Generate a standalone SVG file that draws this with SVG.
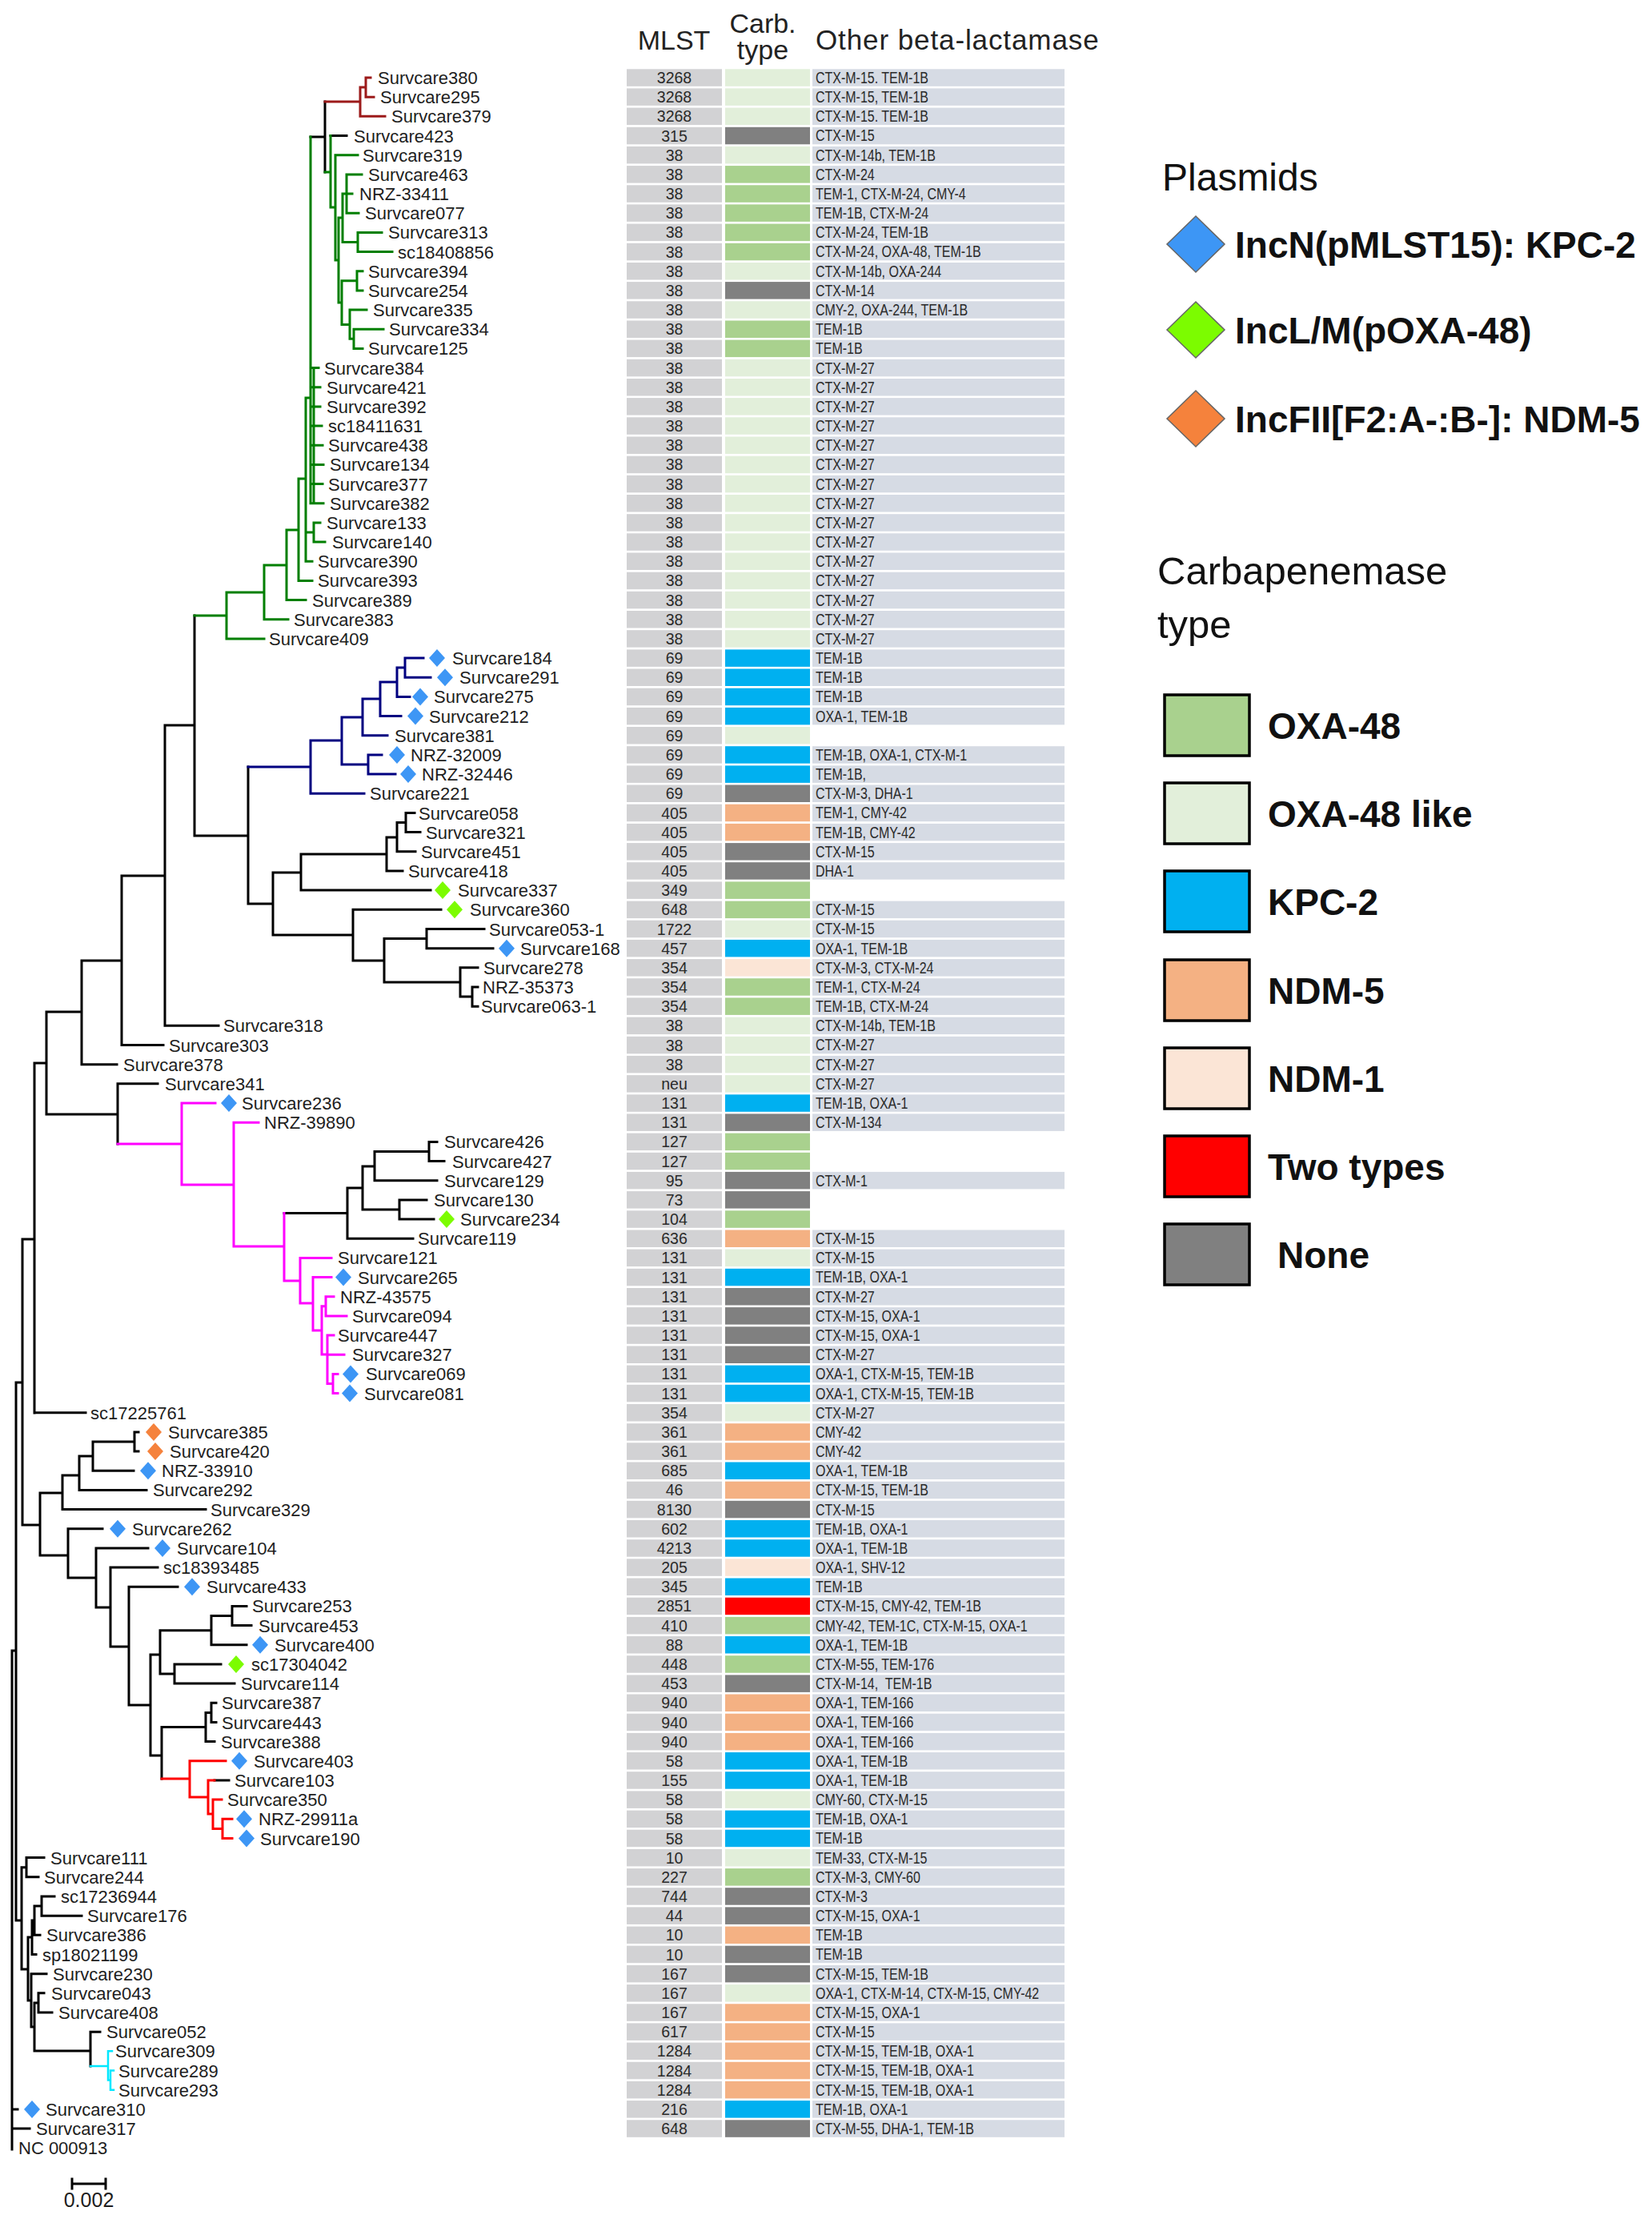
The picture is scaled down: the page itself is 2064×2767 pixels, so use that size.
<svg xmlns="http://www.w3.org/2000/svg" xmlns:xlink="http://www.w3.org/1999/xlink" width="2064" height="2767" viewBox="0 0 2064 2767">
<style>
text{font-family:"Liberation Sans",Arial,sans-serif}
.lab{font-size:22px;fill:#1e1e1e}
.mt{font-size:19.5px;fill:#2a2a2a;text-anchor:middle}
.ot{font-size:19.5px;fill:#2a2a2a}
.hd{font-size:34px;fill:#222}
.br{fill:none;stroke-width:3;stroke-linecap:square}
.bk{stroke:#000}.gr{stroke:#007f00}.dr{stroke:#9c1a1a}.nv{stroke:#000080}.mg{stroke:#ff00ff}.rd{stroke:#ff0000}.cy{stroke:#00e8ff;stroke-width:2.5}
.db{fill:#3d96f5}.dg{fill:#7cfc00}.do{fill:#f5823c}
.cG{fill:#a9d18e}.cL{fill:#e2efda}.cK{fill:#00b0f0}.c5{fill:#f4b183}.c1{fill:#fbe5d6}.cR{fill:#ff0000}.cX{fill:#808080}
.lg{font-size:46px;font-weight:bold;fill:#111}
.lt{font-size:48px;fill:#111}
.sw{stroke:#000;stroke-width:3.5}
.ld{stroke:#666;stroke-width:1.5}
</style>
<defs>
<path id="d" d="M0-11L10 0L0 11L-10 0Z"/>
<path id="D" d="M0-35L36 0L0 35L-36 0Z"/>
<rect id="rm" x="783" y="0" width="119" height="21.5" fill="#d2d2d4"/>
<rect id="rc" x="906" y="0" width="106" height="21.5"/>
<rect id="ro" x="1015" y="0" width="315" height="21.5" fill="#d6dbe4"/>
</defs>
<rect width="2064" height="2767" fill="#fff"/>

<g id="connectors" class="br">
<path class="bk" d="M15 2062V2685M15 2062H20M15 2634.9H22M15 2659H37M20 1727V2399M20 1727H28M20 2399H27M28 1548V1905M28 1548H43M28 1905H50M43 1328V1765M43 1328H58M43 1764.7H107M58 1264V1392M58 1264H102M58 1392H147M102 1200V1329.7M102 1200H152M102 1329.7H146M152 1094V1305.5M152 1094H206M152 1305.5H204M206 906V1281.3M206 906H243M206 1281.3H273M243 769V1044M243 1044H310M310 958V1129M310 1129H341M341 1090V1168M341 1090H376M341 1168H441M376 1067V1112.1M376 1067H483M376 1112.1H538M483 1046V1088M483 1046H496M483 1088H503M496 1027.5V1063.8M496 1027.5H507M496 1063.8H519M507 1015.5V1039.6M507 1015.5H518M507 1039.6H525M441 1136.3V1200M441 1136.3H551M441 1200H480M480 1172.6V1227M480 1172.6H533M480 1227H575M533 1160.5V1184.7M533 1160.5H605M533 1184.7H616M575 1208.8V1245M575 1208.8H597M575 1245H590M590 1233V1257.2M590 1233H597M590 1257.2H597M147 1353.8V1429M147 1353.8H197M355 1515.6H434M434 1484V1547.2M434 1484H453M434 1547.2H516M453 1457V1511M453 1457H468M453 1511H499M468 1438.4V1474.7M468 1438.4H536M468 1474.7H546M536 1426.4V1450.5M536 1426.4H546M536 1450.5H555M499 1498.9V1523M499 1498.9H533M499 1523H542M50 1865V1943M50 1865H78M50 1943H85M78 1843V1885.6M78 1843H99M78 1885.6H257M99 1819V1861.4M99 1819H116M99 1861.4H183M116 1801V1837.2M116 1801H168M116 1837.2H167M168 1788.9V1813.1M168 1788.9H173M168 1813.1H173M85 1909.8V1971M85 1909.8H128M85 1971H120M120 1933.9V2008M120 1933.9H185M120 2008H138M138 1958.1V2057M138 1958.1H197M138 2057H161M161 1982.3V2130M161 1982.3H222M161 2130H188M188 2067V2193M188 2067H200M188 2193H202M200 2036.7V2091M200 2036.7H264M200 2091H218M264 2018.5V2054.8M264 2018.5H290M264 2054.8H308M290 2006.4V2030.6M290 2006.4H308M290 2030.6H314M218 2078.9V2103.1M218 2078.9H276M218 2103.1H293M202 2157.5V2222M202 2157.5H257M257 2139.4V2175.6M257 2139.4H264M257 2175.6H268M264 2127.3V2151.5M264 2127.3H270M264 2151.5H270M268 2224H286M27 2332.7V2460M27 2332.7H33M27 2460H35M33 2320.6V2344.8M33 2320.6H55M33 2344.8H48M35 2420V2499M35 2420H40M35 2499H39M40 2399V2441.5M40 2399H43M40 2441.5H45M43 2381V2417.3M43 2381H52M43 2417.3H50M52 2369V2393.2M52 2369H68M52 2393.2H102M39 2465.7V2532M39 2465.7H58M39 2532H43M43 2502V2562M43 2502H48M43 2562H113M48 2489.8V2514M48 2489.8H55M48 2514H65M113 2538.2V2581M113 2538.2H125M406 127V215M388 171H406M413 169.5H433"/>
<path class="gr" d="M243 769H283M283 740V797.9M283 740H330M283 797.9H330M330 706V773.8M330 706H358M330 773.8H360M358 662V749.6M358 662H373M358 749.6H382M373 598V725.4M373 598H382M373 725.4H390M382 497V701.3M382 497H388M382 665H392M382 701.3H390M392 652.9V677.1M392 652.9H400M392 677.1H406M388 171V628.7M392 459.6V628.7M388 459.6H398M388 483.7H400M388 507.9H400M388 532.1H402M388 556.2H403M388 580.4H404M388 604.6H403M388 628.7H404M406 215H413M413 169.5V259M413 259H419M419 193.7V325M419 193.7H447M419 325H423M423 272V378M423 272H428M423 378H427M428 242V302.4M428 242H433M428 302.4H447M433 217.9V266.2M433 217.9H452M433 242H440M433 266.2H448M447 290.4V314.5M447 290.4H477M447 314.5H490M427 350.8V405.5M427 350.8H446M427 405.5H437M446 338.7V362.9M446 338.7H453M446 362.9H453M437 387V423.3M437 387H458M437 423.3H442M442 411.2V435.4M442 411.2H479M442 435.4H453"/>
<path class="dr" d="M406 127H450M450 109V145.3M450 109H457M450 145.3H481M457 97V121.2M457 97H463M457 121.2H467"/>
<path class="nv" d="M310 958H388M388 925V991.3M388 925H427M388 991.3H455M427 896V955M427 896H453M427 955H460M453 873V918.8M453 873H475M453 918.8H484M475 852V894.6M475 852H496M475 894.6H501M496 834V870.4M496 834H506M496 870.4H512M506 822.1V846.3M506 822.1H529M506 846.3H538M460 943V967.1M460 943H477M460 967.1H494"/>
<path class="mg" d="M147 1429H227M227 1378V1480M227 1378H269M227 1480H292M292 1402.2V1557M292 1402.2H323M292 1557H355M355 1515.6V1600M355 1600H375M375 1571.4V1628M375 1571.4H414M375 1628H391M391 1595.5V1662M391 1595.5H414M391 1662H402M402 1631.8V1692M402 1631.8H407M402 1692H409M407 1619.7V1643.9M407 1619.7H417M407 1643.9H433M409 1668V1728.5M409 1668H417M409 1692.2H430M409 1728.5H416M416 1716.4V1740.6M416 1716.4H422M416 1740.6H422"/>
<path class="rd" d="M202 2222H237M237 2199.8V2245M237 2199.8H282M237 2245H260M260 2224V2266M260 2224H268M260 2266H266M266 2248.1V2284.4M266 2248.1H277M266 2284.4H278M278 2272.3V2296.5M278 2272.3H290M278 2296.5H290"/>
<path class="cy" d="M113 2581H135M135 2562.3V2598.6M135 2562.3H140M135 2598.6H138M138 2586.5V2610.7M138 2586.5H142M138 2610.7H142"/>
<path class="bk" d="M90 2728H132M90 2722V2734M132 2722V2734"/>
</g>

<g id="plasmid-markers">
<use href="#d" class="db" x="546" y="822.1"/><use href="#d" class="db" x="556" y="846.3"/><use href="#d" class="db" x="525" y="870.4"/><use href="#d" class="db" x="519" y="894.6"/><use href="#d" class="db" x="496" y="943"/><use href="#d" class="db" x="510" y="967.1"/><use href="#d" class="db" x="633" y="1184.7"/><use href="#d" class="db" x="286" y="1378"/><use href="#d" class="db" x="429" y="1595.5"/><use href="#d" class="db" x="438" y="1716.4"/><use href="#d" class="db" x="437" y="1740.6"/><use href="#d" class="db" x="185" y="1837.2"/><use href="#d" class="db" x="147" y="1909.8"/><use href="#d" class="db" x="203" y="1933.9"/><use href="#d" class="db" x="240" y="1982.3"/><use href="#d" class="db" x="325" y="2054.8"/><use href="#d" class="db" x="299" y="2199.8"/><use href="#d" class="db" x="305" y="2272.3"/><use href="#d" class="db" x="308" y="2296.5"/><use href="#d" class="db" x="40" y="2634.9"/>
<use href="#d" class="dg" x="553" y="1112.1"/><use href="#d" class="dg" x="568" y="1136.3"/><use href="#d" class="dg" x="558" y="1523"/><use href="#d" class="dg" x="295" y="2078.9"/>
<use href="#d" class="do" x="192" y="1788.9"/><use href="#d" class="do" x="194" y="1813.1"/>
</g>

<g id="leaves" class="lab">
<text x="472" y="105">Survcare380</text><text x="475" y="129.2">Survcare295</text><text x="489" y="153.3">Survcare379</text><text x="442" y="177.5">Survcare423</text><text x="453" y="201.7">Survcare319</text><text x="460" y="225.9">Survcare463</text><text x="449" y="250">NRZ-33411</text><text x="456" y="274.2">Survcare077</text><text x="485" y="298.4">Survcare313</text><text x="497" y="322.5">sc18408856</text><text x="460" y="346.7">Survcare394</text><text x="460" y="370.9">Survcare254</text><text x="466" y="395">Survcare335</text><text x="486" y="419.2">Survcare334</text><text x="460" y="443.4">Survcare125</text><text x="405" y="467.6">Survcare384</text><text x="408" y="491.7">Survcare421</text><text x="408" y="515.9">Survcare392</text><text x="410" y="540.1">sc18411631</text><text x="410" y="564.2">Survcare438</text><text x="412" y="588.4">Survcare134</text><text x="410" y="612.6">Survcare377</text><text x="412" y="636.7">Survcare382</text><text x="408" y="660.9">Survcare133</text><text x="415" y="685.1">Survcare140</text><text x="397" y="709.3">Survcare390</text><text x="397" y="733.4">Survcare393</text><text x="390" y="757.6">Survcare389</text><text x="367" y="781.8">Survcare383</text><text x="336" y="805.9">Survcare409</text>
<text x="565" y="830.1">Survcare184</text><text x="574" y="854.3">Survcare291</text><text x="542" y="878.4">Survcare275</text><text x="536" y="902.6">Survcare212</text><text x="493" y="926.8">Survcare381</text><text x="513" y="951">NRZ-32009</text><text x="527" y="975.1">NRZ-32446</text><text x="462" y="999.3">Survcare221</text>
<text x="523" y="1023.5">Survcare058</text><text x="532" y="1047.6">Survcare321</text><text x="526" y="1071.8">Survcare451</text><text x="510" y="1096">Survcare418</text><text x="572" y="1120.1">Survcare337</text><text x="587" y="1144.3">Survcare360</text><text x="611" y="1168.5">Survcare053-1</text><text x="650" y="1192.7">Survcare168</text><text x="604" y="1216.8">Survcare278</text><text x="603" y="1241">NRZ-35373</text><text x="601" y="1265.2">Survcare063-1</text>
<text x="279" y="1289.3">Survcare318</text><text x="211" y="1313.5">Survcare303</text><text x="154" y="1337.7">Survcare378</text><text x="206" y="1361.8">Survcare341</text><text x="302" y="1386">Survcare236</text><text x="330" y="1410.2">NRZ-39890</text>
<text x="555" y="1434.4">Survcare426</text><text x="565" y="1458.5">Survcare427</text><text x="555" y="1482.7">Survcare129</text><text x="542" y="1506.9">Survcare130</text><text x="575" y="1531">Survcare234</text><text x="522" y="1555.2">Survcare119</text>
<text x="422" y="1579.4">Survcare121</text><text x="447" y="1603.5">Survcare265</text><text x="425" y="1627.7">NRZ-43575</text><text x="440" y="1651.9">Survcare094</text><text x="422" y="1676.1">Survcare447</text><text x="440" y="1700.2">Survcare327</text><text x="457" y="1724.4">Survcare069</text><text x="455" y="1748.6">Survcare081</text>
<text x="113" y="1772.7">sc17225761</text><text x="210" y="1796.9">Survcare385</text><text x="212" y="1821.1">Survcare420</text><text x="202" y="1845.2">NRZ-33910</text><text x="191" y="1869.4">Survcare292</text><text x="263" y="1893.6">Survcare329</text><text x="165" y="1917.8">Survcare262</text><text x="221" y="1941.9">Survcare104</text><text x="204" y="1966.1">sc18393485</text><text x="258" y="1990.3">Survcare433</text><text x="315" y="2014.4">Survcare253</text><text x="323" y="2038.6">Survcare453</text><text x="343" y="2062.8">Survcare400</text><text x="314" y="2086.9">sc17304042</text><text x="301" y="2111.1">Survcare114</text><text x="277" y="2135.3">Survcare387</text><text x="277" y="2159.5">Survcare443</text><text x="276" y="2183.6">Survcare388</text><text x="317" y="2207.8">Survcare403</text><text x="293" y="2232">Survcare103</text><text x="284" y="2256.1">Survcare350</text><text x="323" y="2280.3">NRZ-29911a</text><text x="325" y="2304.5">Survcare190</text>
<text x="63" y="2328.6">Survcare111</text><text x="55" y="2352.8">Survcare244</text><text x="76" y="2377">sc17236944</text><text x="109" y="2401.2">Survcare176</text><text x="58" y="2425.3">Survcare386</text><text x="53" y="2449.5">sp18021199</text><text x="66" y="2473.7">Survcare230</text><text x="64" y="2497.8">Survcare043</text><text x="73" y="2522">Survcare408</text><text x="133" y="2546.2">Survcare052</text><text x="144" y="2570.3">Survcare309</text><text x="148" y="2594.5">Survcare289</text><text x="148" y="2618.7">Survcare293</text><text x="57" y="2642.9">Survcare310</text><text x="45" y="2667">Survcare317</text><text x="23" y="2691.2">NC 000913</text>
</g>
<text x="111" y="2757" text-anchor="middle" style="font-size:25px;fill:#1e1e1e">0.002</text>

<g id="table-header" class="hd">
<text x="842" y="62" text-anchor="middle">MLST</text>
<text x="953" y="41" text-anchor="middle">Carb.</text>
<text x="953" y="74" text-anchor="middle">type</text>
<text x="1019" y="62" style="font-size:35px;letter-spacing:0.9px">Other beta-lactamase</text>
</g>

<g id="table-cells">
<g transform="translate(0,86.3)"><use href="#rm"/><use href="#rc" class="cL"/><use href="#ro"/></g>
<g transform="translate(0,110.4)"><use href="#rm"/><use href="#rc" class="cL"/><use href="#ro"/></g>
<g transform="translate(0,134.6)"><use href="#rm"/><use href="#rc" class="cL"/><use href="#ro"/></g>
<g transform="translate(0,158.8)"><use href="#rm"/><use href="#rc" class="cX"/><use href="#ro"/></g>
<g transform="translate(0,182.9)"><use href="#rm"/><use href="#rc" class="cL"/><use href="#ro"/></g>
<g transform="translate(0,207.1)"><use href="#rm"/><use href="#rc" class="cG"/><use href="#ro"/></g>
<g transform="translate(0,231.3)"><use href="#rm"/><use href="#rc" class="cG"/><use href="#ro"/></g>
<g transform="translate(0,255.4)"><use href="#rm"/><use href="#rc" class="cG"/><use href="#ro"/></g>
<g transform="translate(0,279.6)"><use href="#rm"/><use href="#rc" class="cG"/><use href="#ro"/></g>
<g transform="translate(0,303.8)"><use href="#rm"/><use href="#rc" class="cG"/><use href="#ro"/></g>
<g transform="translate(0,328.0)"><use href="#rm"/><use href="#rc" class="cL"/><use href="#ro"/></g>
<g transform="translate(0,352.1)"><use href="#rm"/><use href="#rc" class="cX"/><use href="#ro"/></g>
<g transform="translate(0,376.3)"><use href="#rm"/><use href="#rc" class="cL"/><use href="#ro"/></g>
<g transform="translate(0,400.5)"><use href="#rm"/><use href="#rc" class="cG"/><use href="#ro"/></g>
<g transform="translate(0,424.6)"><use href="#rm"/><use href="#rc" class="cG"/><use href="#ro"/></g>
<g transform="translate(0,448.8)"><use href="#rm"/><use href="#rc" class="cL"/><use href="#ro"/></g>
<g transform="translate(0,473.0)"><use href="#rm"/><use href="#rc" class="cL"/><use href="#ro"/></g>
<g transform="translate(0,497.1)"><use href="#rm"/><use href="#rc" class="cL"/><use href="#ro"/></g>
<g transform="translate(0,521.3)"><use href="#rm"/><use href="#rc" class="cL"/><use href="#ro"/></g>
<g transform="translate(0,545.5)"><use href="#rm"/><use href="#rc" class="cL"/><use href="#ro"/></g>
<g transform="translate(0,569.7)"><use href="#rm"/><use href="#rc" class="cL"/><use href="#ro"/></g>
<g transform="translate(0,593.8)"><use href="#rm"/><use href="#rc" class="cL"/><use href="#ro"/></g>
<g transform="translate(0,618.0)"><use href="#rm"/><use href="#rc" class="cL"/><use href="#ro"/></g>
<g transform="translate(0,642.2)"><use href="#rm"/><use href="#rc" class="cL"/><use href="#ro"/></g>
<g transform="translate(0,666.3)"><use href="#rm"/><use href="#rc" class="cL"/><use href="#ro"/></g>
<g transform="translate(0,690.5)"><use href="#rm"/><use href="#rc" class="cL"/><use href="#ro"/></g>
<g transform="translate(0,714.7)"><use href="#rm"/><use href="#rc" class="cL"/><use href="#ro"/></g>
<g transform="translate(0,738.8)"><use href="#rm"/><use href="#rc" class="cL"/><use href="#ro"/></g>
<g transform="translate(0,763.0)"><use href="#rm"/><use href="#rc" class="cL"/><use href="#ro"/></g>
<g transform="translate(0,787.2)"><use href="#rm"/><use href="#rc" class="cL"/><use href="#ro"/></g>
<g transform="translate(0,811.4)"><use href="#rm"/><use href="#rc" class="cK"/><use href="#ro"/></g>
<g transform="translate(0,835.5)"><use href="#rm"/><use href="#rc" class="cK"/><use href="#ro"/></g>
<g transform="translate(0,859.7)"><use href="#rm"/><use href="#rc" class="cK"/><use href="#ro"/></g>
<g transform="translate(0,883.9)"><use href="#rm"/><use href="#rc" class="cK"/><use href="#ro"/></g>
<g transform="translate(0,908.0)"><use href="#rm"/><use href="#rc" class="cL"/></g>
<g transform="translate(0,932.2)"><use href="#rm"/><use href="#rc" class="cK"/><use href="#ro"/></g>
<g transform="translate(0,956.4)"><use href="#rm"/><use href="#rc" class="cK"/><use href="#ro"/></g>
<g transform="translate(0,980.5)"><use href="#rm"/><use href="#rc" class="cX"/><use href="#ro"/></g>
<g transform="translate(0,1004.7)"><use href="#rm"/><use href="#rc" class="c5"/><use href="#ro"/></g>
<g transform="translate(0,1028.9)"><use href="#rm"/><use href="#rc" class="c5"/><use href="#ro"/></g>
<g transform="translate(0,1053.1)"><use href="#rm"/><use href="#rc" class="cX"/><use href="#ro"/></g>
<g transform="translate(0,1077.2)"><use href="#rm"/><use href="#rc" class="cX"/><use href="#ro"/></g>
<g transform="translate(0,1101.4)"><use href="#rm"/><use href="#rc" class="cG"/></g>
<g transform="translate(0,1125.6)"><use href="#rm"/><use href="#rc" class="cG"/><use href="#ro"/></g>
<g transform="translate(0,1149.7)"><use href="#rm"/><use href="#rc" class="cL"/><use href="#ro"/></g>
<g transform="translate(0,1173.9)"><use href="#rm"/><use href="#rc" class="cK"/><use href="#ro"/></g>
<g transform="translate(0,1198.1)"><use href="#rm"/><use href="#rc" class="c1"/><use href="#ro"/></g>
<g transform="translate(0,1222.2)"><use href="#rm"/><use href="#rc" class="cG"/><use href="#ro"/></g>
<g transform="translate(0,1246.4)"><use href="#rm"/><use href="#rc" class="cG"/><use href="#ro"/></g>
<g transform="translate(0,1270.6)"><use href="#rm"/><use href="#rc" class="cL"/><use href="#ro"/></g>
<g transform="translate(0,1294.8)"><use href="#rm"/><use href="#rc" class="cL"/><use href="#ro"/></g>
<g transform="translate(0,1318.9)"><use href="#rm"/><use href="#rc" class="cL"/><use href="#ro"/></g>
<g transform="translate(0,1343.1)"><use href="#rm"/><use href="#rc" class="cL"/><use href="#ro"/></g>
<g transform="translate(0,1367.3)"><use href="#rm"/><use href="#rc" class="cK"/><use href="#ro"/></g>
<g transform="translate(0,1391.4)"><use href="#rm"/><use href="#rc" class="cX"/><use href="#ro"/></g>
<g transform="translate(0,1415.6)"><use href="#rm"/><use href="#rc" class="cG"/></g>
<g transform="translate(0,1439.8)"><use href="#rm"/><use href="#rc" class="cG"/></g>
<g transform="translate(0,1463.9)"><use href="#rm"/><use href="#rc" class="cX"/><use href="#ro"/></g>
<g transform="translate(0,1488.1)"><use href="#rm"/><use href="#rc" class="cX"/></g>
<g transform="translate(0,1512.3)"><use href="#rm"/><use href="#rc" class="cG"/></g>
<g transform="translate(0,1536.5)"><use href="#rm"/><use href="#rc" class="c5"/><use href="#ro"/></g>
<g transform="translate(0,1560.6)"><use href="#rm"/><use href="#rc" class="cL"/><use href="#ro"/></g>
<g transform="translate(0,1584.8)"><use href="#rm"/><use href="#rc" class="cK"/><use href="#ro"/></g>
<g transform="translate(0,1609.0)"><use href="#rm"/><use href="#rc" class="cX"/><use href="#ro"/></g>
<g transform="translate(0,1633.1)"><use href="#rm"/><use href="#rc" class="cX"/><use href="#ro"/></g>
<g transform="translate(0,1657.3)"><use href="#rm"/><use href="#rc" class="cX"/><use href="#ro"/></g>
<g transform="translate(0,1681.5)"><use href="#rm"/><use href="#rc" class="cX"/><use href="#ro"/></g>
<g transform="translate(0,1705.6)"><use href="#rm"/><use href="#rc" class="cK"/><use href="#ro"/></g>
<g transform="translate(0,1729.8)"><use href="#rm"/><use href="#rc" class="cK"/><use href="#ro"/></g>
<g transform="translate(0,1754.0)"><use href="#rm"/><use href="#rc" class="cL"/><use href="#ro"/></g>
<g transform="translate(0,1778.2)"><use href="#rm"/><use href="#rc" class="c5"/><use href="#ro"/></g>
<g transform="translate(0,1802.3)"><use href="#rm"/><use href="#rc" class="c5"/><use href="#ro"/></g>
<g transform="translate(0,1826.5)"><use href="#rm"/><use href="#rc" class="cK"/><use href="#ro"/></g>
<g transform="translate(0,1850.7)"><use href="#rm"/><use href="#rc" class="c5"/><use href="#ro"/></g>
<g transform="translate(0,1874.8)"><use href="#rm"/><use href="#rc" class="cX"/><use href="#ro"/></g>
<g transform="translate(0,1899.0)"><use href="#rm"/><use href="#rc" class="cK"/><use href="#ro"/></g>
<g transform="translate(0,1923.2)"><use href="#rm"/><use href="#rc" class="cK"/><use href="#ro"/></g>
<g transform="translate(0,1947.3)"><use href="#rm"/><use href="#rc" class="c1"/><use href="#ro"/></g>
<g transform="translate(0,1971.5)"><use href="#rm"/><use href="#rc" class="cK"/><use href="#ro"/></g>
<g transform="translate(0,1995.7)"><use href="#rm"/><use href="#rc" class="cR"/><use href="#ro"/></g>
<g transform="translate(0,2019.9)"><use href="#rm"/><use href="#rc" class="cG"/><use href="#ro"/></g>
<g transform="translate(0,2044.0)"><use href="#rm"/><use href="#rc" class="cK"/><use href="#ro"/></g>
<g transform="translate(0,2068.2)"><use href="#rm"/><use href="#rc" class="cG"/><use href="#ro"/></g>
<g transform="translate(0,2092.4)"><use href="#rm"/><use href="#rc" class="cX"/><use href="#ro"/></g>
<g transform="translate(0,2116.5)"><use href="#rm"/><use href="#rc" class="c5"/><use href="#ro"/></g>
<g transform="translate(0,2140.7)"><use href="#rm"/><use href="#rc" class="c5"/><use href="#ro"/></g>
<g transform="translate(0,2164.9)"><use href="#rm"/><use href="#rc" class="c5"/><use href="#ro"/></g>
<g transform="translate(0,2189.0)"><use href="#rm"/><use href="#rc" class="cK"/><use href="#ro"/></g>
<g transform="translate(0,2213.2)"><use href="#rm"/><use href="#rc" class="cK"/><use href="#ro"/></g>
<g transform="translate(0,2237.4)"><use href="#rm"/><use href="#rc" class="cL"/><use href="#ro"/></g>
<g transform="translate(0,2261.6)"><use href="#rm"/><use href="#rc" class="cK"/><use href="#ro"/></g>
<g transform="translate(0,2285.7)"><use href="#rm"/><use href="#rc" class="cK"/><use href="#ro"/></g>
<g transform="translate(0,2309.9)"><use href="#rm"/><use href="#rc" class="cL"/><use href="#ro"/></g>
<g transform="translate(0,2334.1)"><use href="#rm"/><use href="#rc" class="cG"/><use href="#ro"/></g>
<g transform="translate(0,2358.2)"><use href="#rm"/><use href="#rc" class="cX"/><use href="#ro"/></g>
<g transform="translate(0,2382.4)"><use href="#rm"/><use href="#rc" class="cX"/><use href="#ro"/></g>
<g transform="translate(0,2406.6)"><use href="#rm"/><use href="#rc" class="c5"/><use href="#ro"/></g>
<g transform="translate(0,2430.7)"><use href="#rm"/><use href="#rc" class="cX"/><use href="#ro"/></g>
<g transform="translate(0,2454.9)"><use href="#rm"/><use href="#rc" class="cX"/><use href="#ro"/></g>
<g transform="translate(0,2479.1)"><use href="#rm"/><use href="#rc" class="cL"/><use href="#ro"/></g>
<g transform="translate(0,2503.3)"><use href="#rm"/><use href="#rc" class="c5"/><use href="#ro"/></g>
<g transform="translate(0,2527.4)"><use href="#rm"/><use href="#rc" class="c5"/><use href="#ro"/></g>
<g transform="translate(0,2551.6)"><use href="#rm"/><use href="#rc" class="c5"/><use href="#ro"/></g>
<g transform="translate(0,2575.8)"><use href="#rm"/><use href="#rc" class="c5"/><use href="#ro"/></g>
<g transform="translate(0,2599.9)"><use href="#rm"/><use href="#rc" class="c5"/><use href="#ro"/></g>
<g transform="translate(0,2624.1)"><use href="#rm"/><use href="#rc" class="cK"/><use href="#ro"/></g>
<g transform="translate(0,2648.3)"><use href="#rm"/><use href="#rc" class="cX"/><use href="#ro"/></g>
</g>

<g id="mlst" class="mt" transform="translate(842.5 0)">
<text y="104.0">3268</text><text y="128.2">3268</text><text y="152.3">3268</text><text y="176.5">315</text><text y="200.7">38</text><text y="224.9">38</text><text y="249.0">38</text><text y="273.2">38</text><text y="297.4">38</text><text y="321.5">38</text><text y="345.7">38</text><text y="369.9">38</text><text y="394.0">38</text><text y="418.2">38</text><text y="442.4">38</text><text y="466.6">38</text><text y="490.7">38</text><text y="514.9">38</text><text y="539.1">38</text><text y="563.2">38</text><text y="587.4">38</text><text y="611.6">38</text><text y="635.7">38</text><text y="659.9">38</text><text y="684.1">38</text><text y="708.3">38</text><text y="732.4">38</text><text y="756.6">38</text><text y="780.8">38</text><text y="804.9">38</text>
<text y="829.1">69</text><text y="853.3">69</text><text y="877.4">69</text><text y="901.6">69</text><text y="925.8">69</text><text y="950.0">69</text><text y="974.1">69</text><text y="998.3">69</text><text y="1022.5">405</text><text y="1046.6">405</text><text y="1070.8">405</text><text y="1095.0">405</text><text y="1119.1">349</text><text y="1143.3">648</text><text y="1167.5">1722</text><text y="1191.7">457</text><text y="1215.8">354</text><text y="1240.0">354</text><text y="1264.2">354</text><text y="1288.3">38</text><text y="1312.5">38</text><text y="1336.7">38</text><text y="1360.8">neu</text><text y="1385.0">131</text><text y="1409.2">131</text><text y="1433.4">127</text><text y="1457.5">127</text><text y="1481.7">95</text><text y="1505.9">73</text><text y="1530.0">104</text><text y="1554.2">636</text><text y="1578.4">131</text><text y="1602.5">131</text><text y="1626.7">131</text><text y="1650.9">131</text><text y="1675.1">131</text><text y="1699.2">131</text><text y="1723.4">131</text><text y="1747.6">131</text>
<text y="1771.7">354</text><text y="1795.9">361</text><text y="1820.1">361</text><text y="1844.2">685</text><text y="1868.4">46</text><text y="1892.6">8130</text><text y="1916.8">602</text><text y="1940.9">4213</text><text y="1965.1">205</text><text y="1989.3">345</text><text y="2013.4">2851</text><text y="2037.6">410</text><text y="2061.8">88</text><text y="2085.9">448</text><text y="2110.1">453</text><text y="2134.3">940</text><text y="2158.5">940</text><text y="2182.6">940</text><text y="2206.8">58</text><text y="2231.0">155</text><text y="2255.1">58</text><text y="2279.3">58</text><text y="2303.5">58</text><text y="2327.6">10</text><text y="2351.8">227</text><text y="2376.0">744</text><text y="2400.2">44</text><text y="2424.3">10</text><text y="2448.5">10</text><text y="2472.7">167</text><text y="2496.8">167</text><text y="2521.0">167</text><text y="2545.2">617</text><text y="2569.3">1284</text><text y="2593.5">1284</text><text y="2617.7">1284</text><text y="2641.9">216</text><text y="2666.0">648</text>
</g>

<g id="other-bla" class="ot" transform="translate(1019 0) scale(0.82 1)">
<text y="104.0">CTX-M-15. TEM-1B</text><text y="128.2">CTX-M-15, TEM-1B</text><text y="152.3">CTX-M-15. TEM-1B</text><text y="176.5">CTX-M-15</text><text y="200.7">CTX-M-14b, TEM-1B</text><text y="224.9">CTX-M-24</text><text y="249.0">TEM-1, CTX-M-24, CMY-4</text><text y="273.2">TEM-1B, CTX-M-24</text><text y="297.4">CTX-M-24, TEM-1B</text><text y="321.5">CTX-M-24, OXA-48, TEM-1B</text><text y="345.7">CTX-M-14b, OXA-244</text><text y="369.9">CTX-M-14</text><text y="394.0">CMY-2, OXA-244, TEM-1B</text><text y="418.2">TEM-1B</text><text y="442.4">TEM-1B</text><text y="466.6">CTX-M-27</text><text y="490.7">CTX-M-27</text><text y="514.9">CTX-M-27</text><text y="539.1">CTX-M-27</text><text y="563.2">CTX-M-27</text><text y="587.4">CTX-M-27</text><text y="611.6">CTX-M-27</text><text y="635.7">CTX-M-27</text><text y="659.9">CTX-M-27</text><text y="684.1">CTX-M-27</text><text y="708.3">CTX-M-27</text><text y="732.4">CTX-M-27</text><text y="756.6">CTX-M-27</text><text y="780.8">CTX-M-27</text><text y="804.9">CTX-M-27</text>
<text y="829.1">TEM-1B</text><text y="853.3">TEM-1B</text><text y="877.4">TEM-1B</text><text y="901.6">OXA-1, TEM-1B</text><text y="950.0">TEM-1B, OXA-1, CTX-M-1</text><text y="974.1">TEM-1B,</text><text y="998.3">CTX-M-3, DHA-1</text><text y="1022.5">TEM-1, CMY-42</text><text y="1046.6">TEM-1B, CMY-42</text><text y="1070.8">CTX-M-15</text><text y="1095.0">DHA-1</text><text y="1143.3">CTX-M-15</text><text y="1167.5">CTX-M-15</text><text y="1191.7">OXA-1, TEM-1B</text><text y="1215.8">CTX-M-3, CTX-M-24</text><text y="1240.0">TEM-1, CTX-M-24</text><text y="1264.2">TEM-1B, CTX-M-24</text><text y="1288.3">CTX-M-14b, TEM-1B</text><text y="1312.5">CTX-M-27</text><text y="1336.7">CTX-M-27</text><text y="1360.8">CTX-M-27</text><text y="1385.0">TEM-1B, OXA-1</text><text y="1409.2">CTX-M-134</text><text y="1481.7">CTX-M-1</text><text y="1554.2">CTX-M-15</text><text y="1578.4">CTX-M-15</text><text y="1602.5">TEM-1B, OXA-1</text><text y="1626.7">CTX-M-27</text><text y="1650.9">CTX-M-15, OXA-1</text><text y="1675.1">CTX-M-15, OXA-1</text><text y="1699.2">CTX-M-27</text><text y="1723.4">OXA-1, CTX-M-15, TEM-1B</text><text y="1747.6">OXA-1, CTX-M-15, TEM-1B</text>
<text y="1771.7">CTX-M-27</text><text y="1795.9">CMY-42</text><text y="1820.1">CMY-42</text><text y="1844.2">OXA-1, TEM-1B</text><text y="1868.4">CTX-M-15, TEM-1B</text><text y="1892.6">CTX-M-15</text><text y="1916.8">TEM-1B, OXA-1</text><text y="1940.9">OXA-1, TEM-1B</text><text y="1965.1">OXA-1, SHV-12</text><text y="1989.3">TEM-1B</text><text y="2013.4">CTX-M-15, CMY-42, TEM-1B</text><text y="2037.6">CMY-42, TEM-1C, CTX-M-15, OXA-1</text><text y="2061.8">OXA-1, TEM-1B</text><text y="2085.9">CTX-M-55, TEM-176</text><text y="2110.1" xml:space="preserve">CTX-M-14,  TEM-1B</text><text y="2134.3">OXA-1, TEM-166</text><text y="2158.5">OXA-1, TEM-166</text><text y="2182.6">OXA-1, TEM-166</text><text y="2206.8">OXA-1, TEM-1B</text><text y="2231.0">OXA-1, TEM-1B</text><text y="2255.1">CMY-60, CTX-M-15</text><text y="2279.3">TEM-1B, OXA-1</text><text y="2303.5">TEM-1B</text><text y="2327.6">TEM-33, CTX-M-15</text><text y="2351.8">CTX-M-3, CMY-60</text><text y="2376.0">CTX-M-3</text><text y="2400.2">CTX-M-15, OXA-1</text><text y="2424.3">TEM-1B</text><text y="2448.5">TEM-1B</text><text y="2472.7">CTX-M-15, TEM-1B</text><text y="2496.8">OXA-1, CTX-M-14, CTX-M-15, CMY-42</text><text y="2521.0">CTX-M-15, OXA-1</text><text y="2545.2">CTX-M-15</text><text y="2569.3">CTX-M-15, TEM-1B, OXA-1</text><text y="2593.5">CTX-M-15, TEM-1B, OXA-1</text><text y="2617.7">CTX-M-15, TEM-1B, OXA-1</text><text y="2641.9">TEM-1B, OXA-1</text><text y="2666.0">CTX-M-55, DHA-1, TEM-1B</text>
</g>

<g id="legend-plasmids">
<text class="lt" x="1452" y="238">Plasmids</text>
<g id="leg-incn"><use href="#D" class="db ld" x="1494" y="305"/><text class="lg" x="1543" y="321.5">IncN(pMLST15): KPC-2</text></g>
<g id="leg-incl"><use href="#D" class="dg ld" x="1494" y="412"/><text class="lg" x="1543" y="428.5">IncL/M(pOXA-48)</text></g>
<g id="leg-incf"><use href="#D" class="do ld" x="1494" y="523"/><text class="lg" x="1543" y="539.5">IncFII[F2:A-:B-]: NDM-5</text></g>
</g>

<g id="legend-carb">
<text class="lt" x="1446" y="730" style="font-size:49px">Carbapenemase</text>
<text class="lt" x="1446" y="797" style="font-size:49px">type</text>
<g id="leg-oxa48"><rect class="cG sw" x="1455" y="868" width="106" height="76"/><text class="lg" x="1584" y="922.5">OXA-48</text></g>
<g id="leg-oxalike"><rect class="cL sw" x="1455" y="978" width="106" height="76"/><text class="lg" x="1584" y="1032.5">OXA-48 like</text></g>
<g id="leg-kpc"><rect class="cK sw" x="1455" y="1088" width="106" height="76"/><text class="lg" x="1584" y="1142.5">KPC-2</text></g>
<g id="leg-ndm5"><rect class="c5 sw" x="1455" y="1199" width="106" height="76"/><text class="lg" x="1584" y="1253.5">NDM-5</text></g>
<g id="leg-ndm1"><rect class="c1 sw" x="1455" y="1309" width="106" height="76"/><text class="lg" x="1584" y="1363.5">NDM-1</text></g>
<g id="leg-two"><rect class="cR sw" x="1455" y="1419" width="106" height="76"/><text class="lg" x="1584" y="1473.5">Two types</text></g>
<g id="leg-none"><rect class="cX sw" x="1455" y="1529" width="106" height="76"/><text class="lg" x="1596" y="1583.5">None</text></g>
</g>
</svg>
